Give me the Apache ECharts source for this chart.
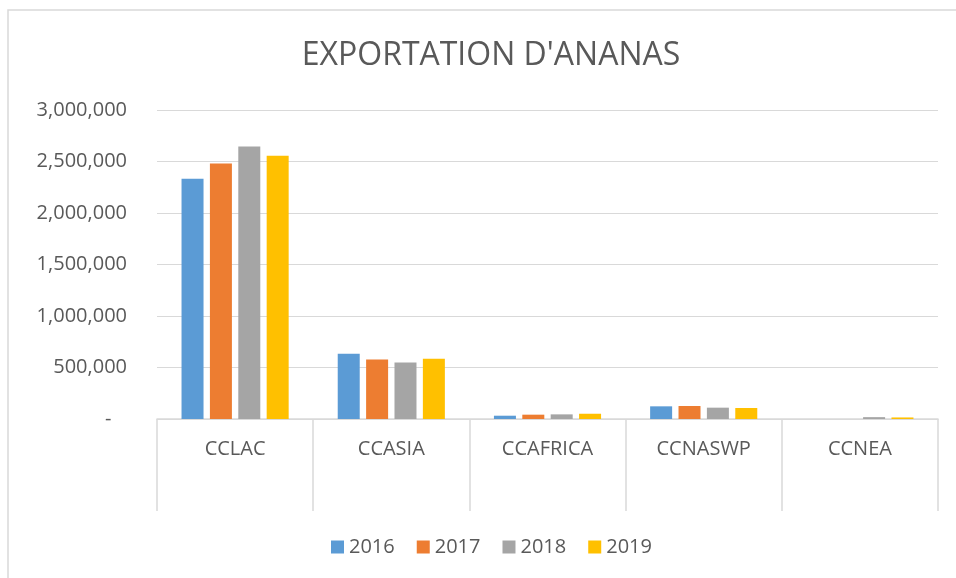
<!DOCTYPE html>
<html>
<head>
<meta charset="utf-8">
<script src="https://cdn.jsdelivr.net/npm/echarts@6/dist/echarts.min.js"></script>
<style>html,body{margin:0;padding:0;background:#fff;}#c{width:956px;height:578px;}</style>
</head>
<body>
<div id="c"></div>
<script>
var categories = ['CCLAC', 'CCASIA', 'CCAFRICA', 'CCNASWP', 'CCNEA'];
var years = ['2016', '2017', '2018', '2019'];
var v2016 = [2332000, 633000, 32000, 123000, 0];
var v2017 = [2481000, 578000, 42000, 126000, 0];
var v2018 = [2645000, 549000, 45000, 110000, 18000];
var v2019 = [2555000, 584000, 51000, 107000, 15000];
var yTicks = [0, 500000, 1000000, 1500000, 2000000, 2500000, 3000000];

var colors = ['#5B9BD5', '#ED7D31', '#A5A5A5', '#FFC000'];
var seriesValues = [v2016, v2017, v2018, v2019];
var FONT = 'Open Sans';
var chart = echarts.init(document.getElementById('c'));
var series = years.map(function (y, i) {
  return {
    name: y, type: 'bar', data: seriesValues[i],
    barWidth: 22, barGap: '29%',
    itemStyle: { color: colors[i] }
  };
});
chart.setOption({
  animation: false,
  color: colors,
  title: {
    text: "EXPORTATION D'ANANAS", left: 486, textAlign: 'center', top: 35,
    textStyle: { fontFamily: FONT, fontWeight: 'normal', fontSize: 32, color: '#595959' }
  },
  legend: {
    data: years, bottom: 16, left: 326,
    icon: 'rect', itemWidth: 13, itemHeight: 13, itemGap: 22,
    textStyle: { fontFamily: FONT, fontSize: 20, color: '#595959' }
  },
  grid: { left: 157, right: 18, top: 110, bottom: 159, containLabel: false },
  xAxis: {
    type: 'category', data: categories, boundaryGap: true,
    axisLine: { lineStyle: { color: '#d9d9d9', width: 1.5 } },
    axisTick: { show: true, length: 92, lineStyle: { color: '#d9d9d9', width: 1.5 } },
    axisLabel: { fontFamily: FONT, fontSize: 20, color: '#595959', margin: 20 }
  },
  yAxis: {
    type: 'value', min: 0, max: 3000000, interval: 500000,
    axisLine: { show: false }, axisTick: { show: false },
    splitLine: { lineStyle: { color: '#d9d9d9', width: 1.2 } },
    axisLabel: {
      fontFamily: FONT, fontSize: 20, color: '#595959', margin: 30,
      formatter: function (v) { return v === 0 ? '-   ' : v.toLocaleString('en-US'); }
    }
  },
  graphic: [{
    type: 'rect', shape: { x: 8, y: 10, width: 980, height: 600 },
    style: { fill: 'none', stroke: '#d9d9d9', lineWidth: 1.5 }, silent: true, z: -1
  }],
  series: series
});
</script>
</body>
</html>
